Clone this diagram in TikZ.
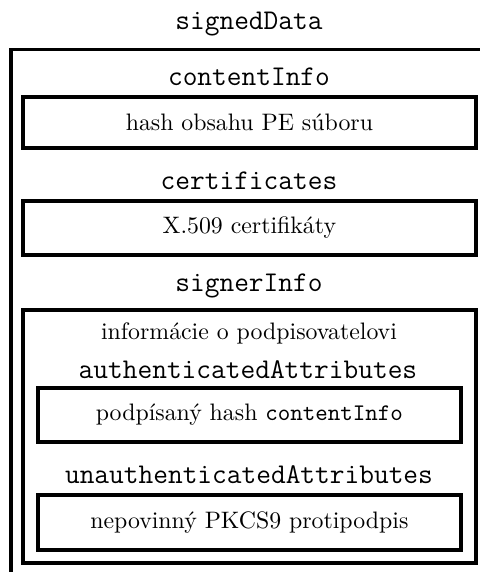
\documentclass[tikz,border=0pt]{standalone}
\usepackage{fontspec}
\usepackage{tikz}
\usetikzlibrary{positioning}

\begin{document}
\begin{tikzpicture}[
    frame/.style={draw, line width=1.6pt, inner sep=0pt},
    field/.style={font=\large\ttfamily, inner sep=0pt}
  ]
  % page is 7.085 x 8.443 (the outer box runs off the right and bottom edge)
  \useasboundingbox (0,0) rectangle (7.085,8.443);
  \clip (0,0) rectangle (7.085,8.443);

  % signedData: outer frame
  \node[field] (lblSigned) at (3.675,8.089) {signedData};
  \node[frame, minimum width=7.4cm, minimum height=8.2cm] (signedData) at (3.867,3.613) {};

  % contentInfo
  \node[field] (lblContent) at (3.675,7.307) {contentInfo};
  \node[frame, minimum width=6.69cm, minimum height=0.748cm] (contentInfo) at (3.681,6.637) {hash obsahu PE súboru};

  % certificates
  \node[field] (lblCerts) at (3.675,5.772) {certificates};
  \node[frame, minimum width=6.69cm, minimum height=0.793cm] (certificates) at (3.681,5.080) {X.509 certifikáty};

  % signerInfo with its two attribute boxes
  \node[field] (lblSigner) at (3.675,4.222) {signerInfo};
  \node[frame, minimum width=6.69cm, minimum height=3.735cm] (signerInfo) at (3.681,2.000) {};
  \node[inner sep=0pt] (signerText) at (3.675,3.528) {informácie o podpisovatelovi};

  \node[field] (lblAuth) at (3.660,2.981) {authenticatedAttributes};
  \node[frame, minimum width=6.247cm, minimum height=0.797cm] (authAttr) at (3.681,2.317) {podpísaný hash \texttt{contentInfo}};

  \node[field] (lblUnauth) at (3.675,1.432) {unauthenticatedAttributes};
  \node[frame, minimum width=6.247cm, minimum height=0.812cm] (unauthAttr) at (3.681,0.731) {nepovinný PKCS9 protipodpis};
\end{tikzpicture}
\end{document}
